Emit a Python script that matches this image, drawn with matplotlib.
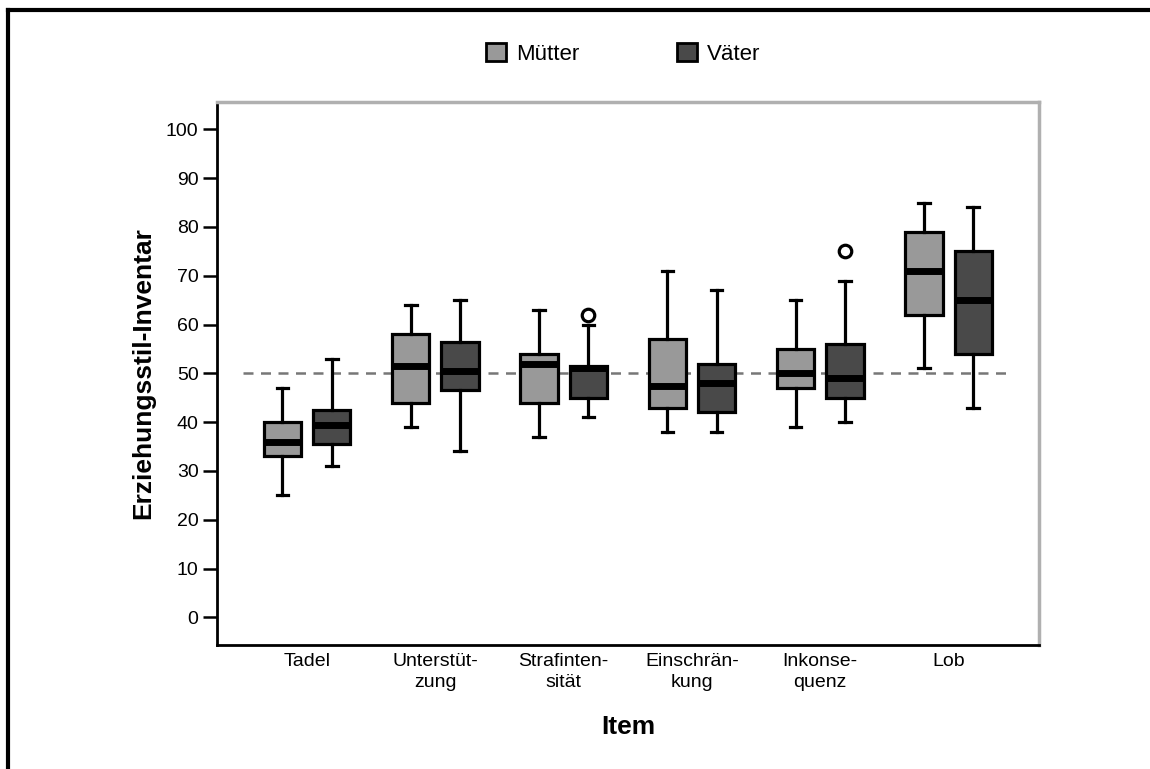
import matplotlib.pyplot as plt
from matplotlib.patches import Patch
from matplotlib.lines import Line2D

plt.rcParams['font.family'] = ['Liberation Sans', 'DejaVu Sans']

items = ['Tadel', 'Unterstüt-\nzung', 'Strafinten-\nsität', 'Einschrän-\nkung', 'Inkonse-\nquenz', 'Lob']
groups = ['Mütter', 'Väter']

# whisker low, Q1, median, Q3, whisker high
muetter_low = [25, 39, 37, 38, 39, 51]
muetter_q1 = [33, 44, 44, 43, 47, 62]
muetter_med = [36, 51.5, 52, 47.5, 50, 71]
muetter_q3 = [40, 58, 54, 57, 55, 79]
muetter_high = [47, 64, 63, 71, 65, 85]
muetter_out = [[], [], [], [], [], []]

vaeter_low = [31, 34, 41, 38, 40, 43]
vaeter_q1 = [35.5, 46.5, 45, 42, 45, 54]
vaeter_med = [39.5, 50.5, 51, 48, 49, 65]
vaeter_q3 = [42.5, 56.5, 51.5, 52, 56, 75]
vaeter_high = [53, 65, 60, 67, 69, 84]
vaeter_out = [[], [], [62], [], [75], []]

ref_value = 50
colors = ['#999999', '#494949']

fig = plt.figure(figsize=(11.5, 7.69), dpi=100)
ax = fig.add_axes([0.1884, 0.1612, 0.7151, 0.7066])


def make_stats(low, q1, med, q3, high, out):
    return [dict(whislo=a, q1=b, med=c, q3=d, whishi=e, fliers=f)
            for a, b, c, d, e, f in zip(low, q1, med, q3, high, out)]


series = [
    make_stats(muetter_low, muetter_q1, muetter_med, muetter_q3, muetter_high, muetter_out),
    make_stats(vaeter_low, vaeter_q1, vaeter_med, vaeter_q3, vaeter_high, vaeter_out),
]
offsets = [-0.192, 0.192]

for stats, off, col in zip(series, offsets, colors):
    pos = [i + off for i in range(len(items))]
    ax.bxp(stats, positions=pos, widths=0.29, patch_artist=True, showfliers=True,
           boxprops=dict(facecolor=col, edgecolor='black', linewidth=2.3),
           medianprops=dict(color='black', linewidth=5, solid_capstyle='butt'),
           whiskerprops=dict(color='black', linewidth=2.3),
           capprops=dict(color='black', linewidth=2.3),
           capwidths=0.09,
           flierprops=dict(marker='o', markersize=9, markerfacecolor='white',
                           markeredgecolor='black', markeredgewidth=2.3),
           manage_ticks=False)

ax.plot([-0.5, len(items) - 0.5], [ref_value, ref_value], color='#777777',
        linestyle=(0, (4, 3)), linewidth=1.8, zorder=1)

ax.set_xlim(-0.705, len(items) - 0.295)
ax.set_ylim(-5.67, 105.67)
ax.set_yticks(range(0, 101, 10))
ax.set_xticks(range(len(items)))
ax.set_xticklabels(items, fontsize=14, linespacing=1.25)
ax.tick_params(axis='y', labelsize=14, length=10, width=1.8, pad=3)
ax.tick_params(axis='x', length=0, pad=6)

for side in ['left', 'bottom']:
    ax.spines[side].set_color('black')
    ax.spines[side].set_linewidth(2)
for side in ['top', 'right']:
    ax.spines[side].set_color('#b0b0b0')
    ax.spines[side].set_linewidth(2.5)

ax.set_ylabel('Erziehungsstil-Inventar', fontsize=19, fontweight='bold')
ax.yaxis.set_label_coords(-0.0745, 0.5)
ax.set_xlabel('Item', fontsize=19, fontweight='bold')
ax.xaxis.label.set_va('center')
ax.xaxis.set_label_coords(0.5, -0.151)

handles = [Patch(facecolor=c, edgecolor='black', linewidth=2) for c in colors]
fig.legend(handles, groups, loc='center', bbox_to_anchor=(0.542, 0.93), ncol=2,
           frameon=False, fontsize=16, handlelength=0.9, handleheight=0.9,
           handletextpad=0.45, columnspacing=4.4)

# outer frame
fig.add_artist(Line2D([8 / 1150, 8 / 1150], [0, 1 - 10 / 769], color='black', linewidth=3,
                      transform=fig.transFigure))
fig.add_artist(Line2D([8 / 1150, 1], [1 - 10 / 769, 1 - 10 / 769], color='black', linewidth=3,
                      transform=fig.transFigure))

fig.savefig('out.png', dpi=100)
